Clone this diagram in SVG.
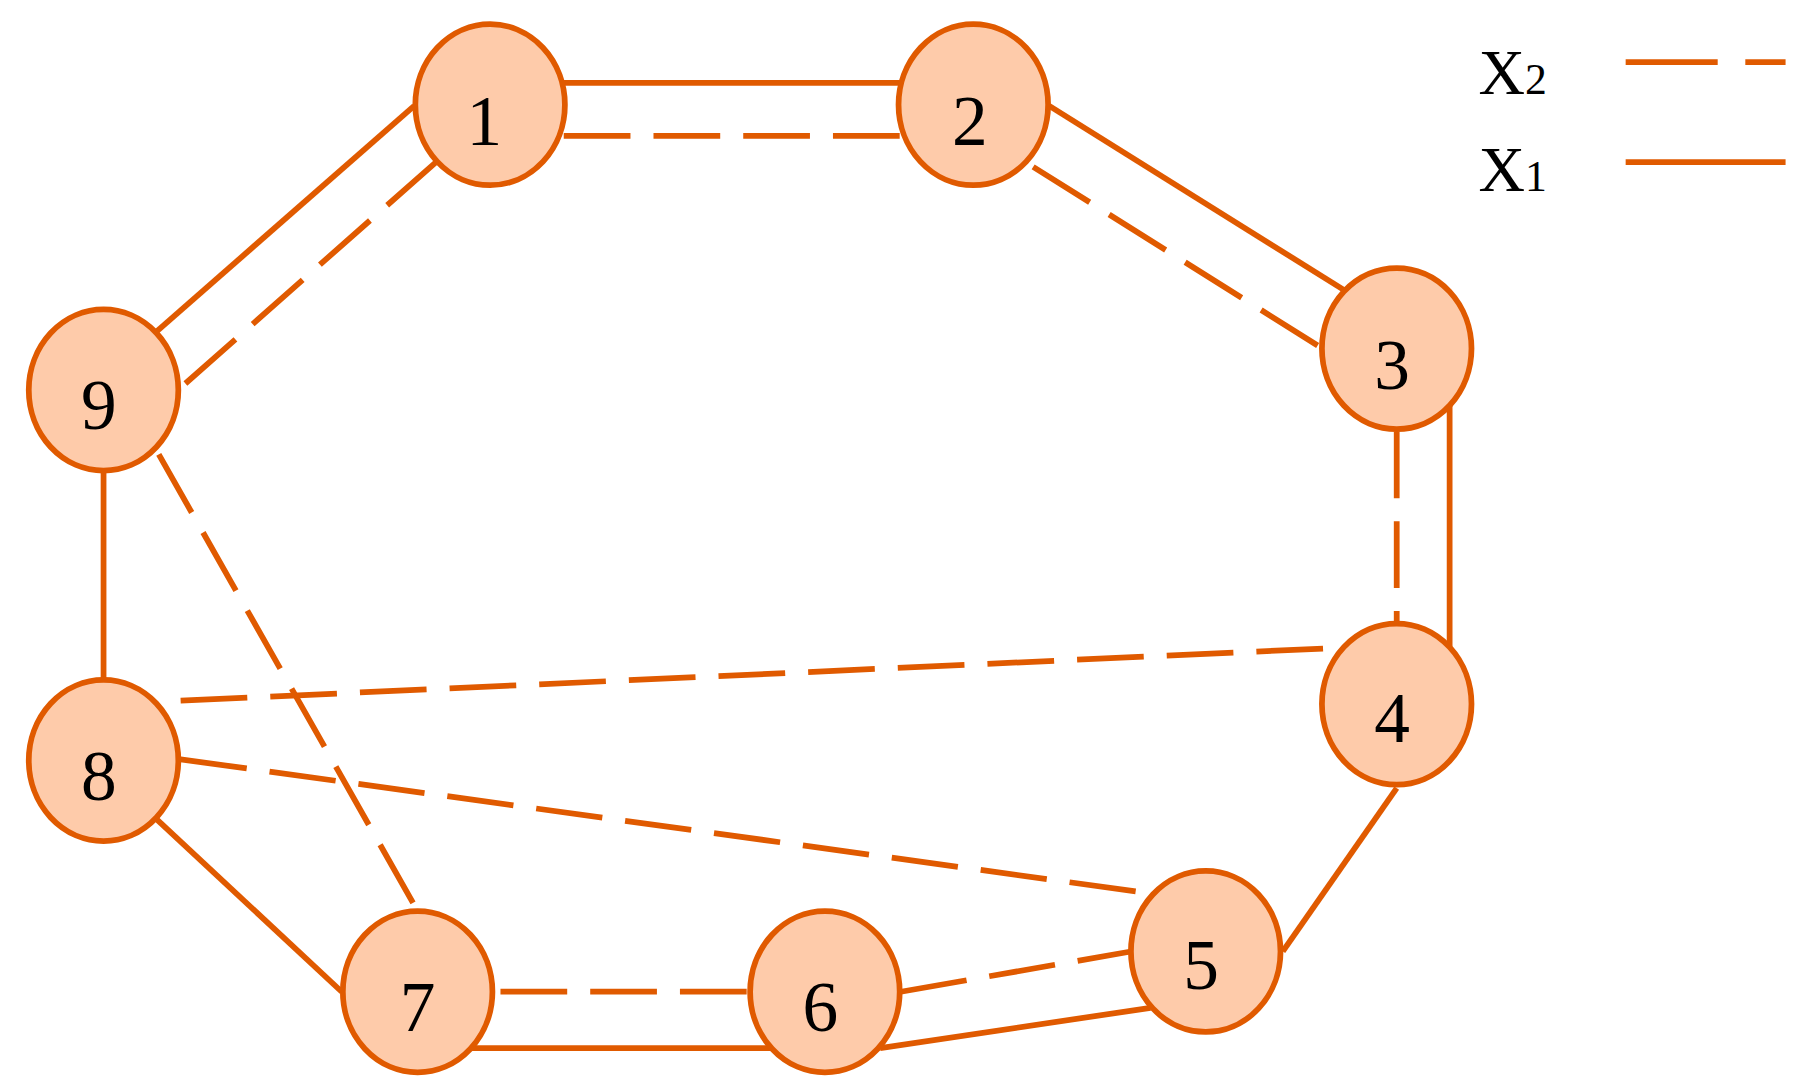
<svg xmlns="http://www.w3.org/2000/svg" width="1804" height="1088" viewBox="0 0 1804 1088">
<style>
.s{stroke:#e05a00;stroke-width:5;fill:none}
.d{stroke:#e05a00;stroke-width:5;fill:none;stroke-dasharray:58 20}
.n{fill:#fecbaa;stroke:#e05a00;stroke-width:5}
.t{font-family:"Liberation Serif",serif;font-size:62px;fill:#000;text-anchor:middle}
.l{font-family:"Liberation Serif",serif;font-size:56px;fill:#000}
</style>
<rect width="1804" height="1088" fill="#fff"/>
<g transform="scale(1.1505)">
<g id="connectors">
<line class="s" x1="490" y1="72" x2="782" y2="72"/>
<line class="d" x1="490" y1="118" x2="782" y2="118"/>
<line class="s" x1="912" y1="92" x2="1168" y2="252"/>
<line class="d" x1="898" y1="145" x2="1148" y2="302"/>
<line class="s" x1="1260" y1="352" x2="1260" y2="562"/>
<line class="d" x1="1214" y1="375" x2="1214" y2="545"/>
<line class="s" x1="360" y1="92" x2="134" y2="290"/>
<line class="d" x1="380" y1="140" x2="157" y2="337"/>
<line class="s" x1="90" y1="408" x2="90" y2="590"/>
<line class="d" x1="138" y1="395" x2="362" y2="790"/>
<line class="d" x1="157" y1="609" x2="1165" y2="563"/>
<line class="d" x1="157" y1="660" x2="1003" y2="777"/>
<line class="s" x1="136" y1="712" x2="297" y2="862"/>
<line class="d" x1="435" y1="862" x2="652" y2="862"/>
<line class="s" x1="408" y1="911" x2="670" y2="911"/>
<line class="d" x1="783" y1="862" x2="983" y2="827"/>
<line class="s" x1="765" y1="911" x2="1000" y2="876"/>
<line class="s" x1="1115" y1="827" x2="1214" y2="685"/>
</g>
<g id="n1"><ellipse class="n" cx="426" cy="91" rx="65" ry="70"/><text class="t" x="421" y="126">1</text></g>
<g id="n2"><ellipse class="n" cx="846" cy="91" rx="65" ry="70"/><text class="t" x="843" y="126">2</text></g>
<g id="n3"><ellipse class="n" cx="1214" cy="303" rx="65" ry="70"/><text class="t" x="1210" y="338">3</text></g>
<g id="n4"><ellipse class="n" cx="1214" cy="612" rx="65" ry="70"/><text class="t" x="1210" y="645">4</text></g>
<g id="n5"><ellipse class="n" cx="1048" cy="827" rx="65" ry="70"/><text class="t" x="1044" y="860">5</text></g>
<g id="n6"><ellipse class="n" cx="717" cy="862" rx="65" ry="70"/><text class="t" x="713" y="896">6</text></g>
<g id="n7"><ellipse class="n" cx="363" cy="862" rx="65" ry="70"/><text class="t" x="363" y="896">7</text></g>
<g id="n8"><ellipse class="n" cx="90" cy="661" rx="65" ry="70"/><text class="t" x="86" y="695">8</text></g>
<g id="n9"><ellipse class="n" cx="90" cy="339" rx="65" ry="70"/><text class="t" x="86" y="373">9</text></g>
<g id="legend">
<text class="l" x="1285" y="82">X<tspan font-size="38">2</tspan></text>
<text class="l" x="1285" y="166">X<tspan font-size="38">1</tspan></text>
<line class="s" x1="1413" y1="54" x2="1493" y2="54"/>
<line class="s" x1="1517" y1="54" x2="1552" y2="54"/>
<line class="s" x1="1413" y1="141" x2="1552" y2="141"/>
</g>
</g>
</svg>
